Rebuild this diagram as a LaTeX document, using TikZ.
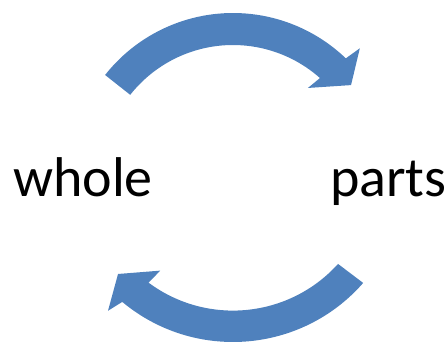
\documentclass[tikz,border=0pt]{standalone}
\usepackage{fontspec}
\setmainfont{Carlito}
\definecolor{arrowblue}{RGB}{79,129,189}
\tikzset{
  blockarrow/.style={fill=arrowblue, draw=none},
  label/.style={inner sep=0pt, anchor=base west, font=\fontsize{56}{60}\selectfont}
}
\begin{document}
\begin{tikzpicture}[x=1pt,y=1pt]
\useasboundingbox (0,0) rectangle (448,343);
% top arrow (clockwise, whole -> parts)
\begin{scope}[shift={(233,167)}]
\fill[blockarrow] (141.7:131) -- (141.7:163)
  arc[start angle=141.7, end angle=46.2, radius=163]
  -- (45.2:180) -- (37.6:149) -- (49.6:115.6) -- (48.4:131)
  arc[start angle=48.4, end angle=141.7, radius=131] -- cycle;
\end{scope}
% bottom arrow (parts -> whole)
\begin{scope}[shift={(233,174)}]
\fill[blockarrow] (-42.1:141.6) -- (-41.2:173)
  arc[start angle=-41.2, end angle=-129.8, radius=173]
  -- (-131.4:189) -- (-137.6:155.7) -- (-125.6:125) -- (-126.6:141.6)
  arc[start angle=-126.6, end angle=-42.1, radius=141.6] -- cycle;
\end{scope}
\node[label] (whole) at (13,146) {whole};
\node[label] (parts) at (330,146) {parts};
\end{tikzpicture}
\end{document}
